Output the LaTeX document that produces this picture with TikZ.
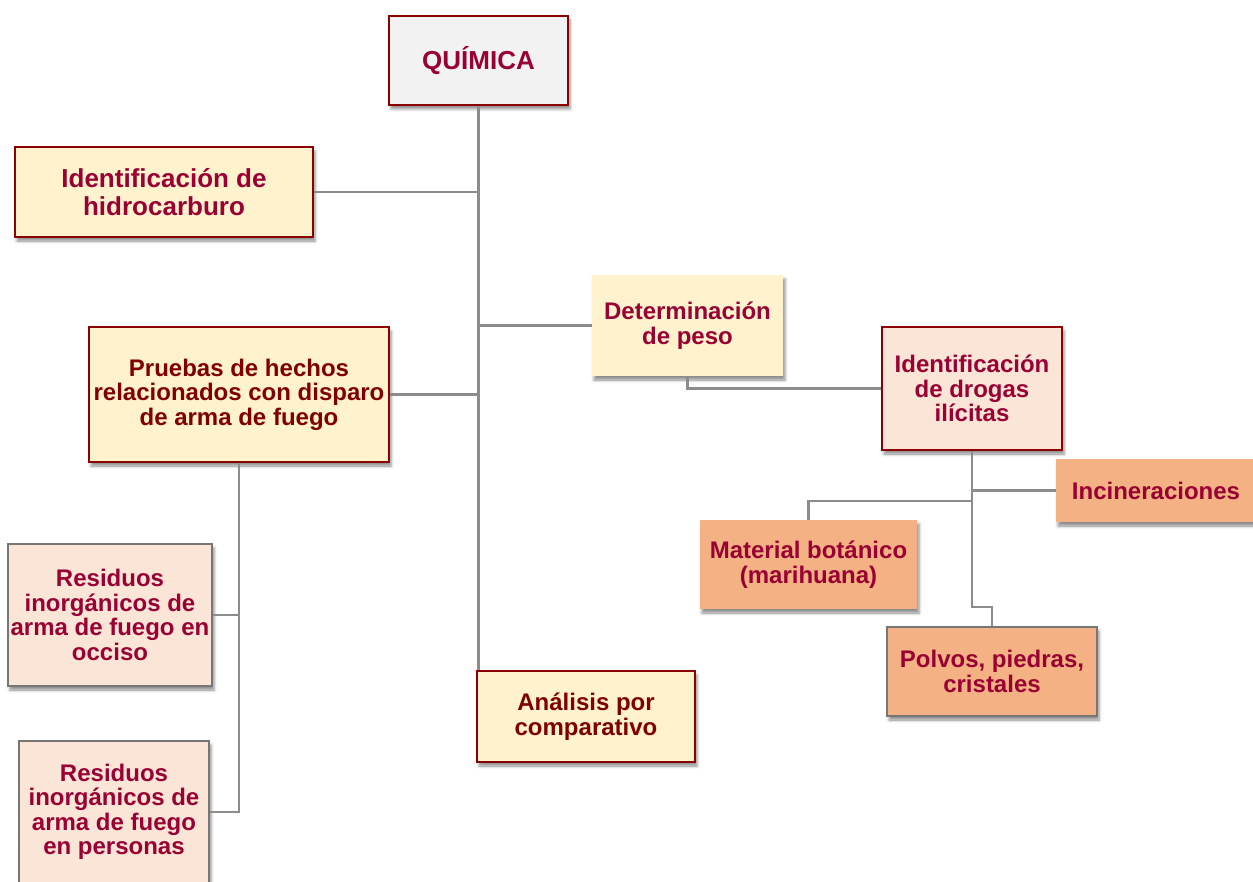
\documentclass[tikz,border=0pt]{standalone}
\usepackage{fontspec}
\setmainfont{Liberation Sans}
\usetikzlibrary{shadows.blur}
\definecolor{cream}{RGB}{255,242,204}
\definecolor{pinkfill}{RGB}{251,229,214}
\definecolor{orangefill}{RGB}{244,177,131}
\definecolor{greyfill}{RGB}{242,242,242}
\definecolor{darkborder}{RGB}{139,0,0}
\definecolor{greyborder}{RGB}{118,118,118}
\definecolor{crimsontext}{RGB}{153,0,51}
\definecolor{maroontext}{RGB}{128,0,0}
\definecolor{linegrey}{RGB}{140,140,140}
\tikzset{
  boxbase/.style={rectangle, inner sep=0pt, align=center, font=\bfseries\fontsize{24}{24.5}\selectfont,
    blur shadow={shadow xshift=2pt, shadow yshift=-4pt, shadow blur radius=3pt, shadow opacity=45}},
  redframe/.style={draw=darkborder, line width=2pt},
  greyframe/.style={draw=greyborder, line width=2pt},
  conn/.style={draw=linegrey, line width=2.2pt}
}
\begin{document}
\begin{tikzpicture}[x=1pt,y=-1pt]
\useasboundingbox (0,0) rectangle (1253,882);
% nodes
\node[boxbase, redframe, fill=greyfill, text=crimsontext, minimum width=179pt, minimum height=89pt,
  font=\bfseries\fontsize{26}{28}\selectfont] (quim) at (478.5,60.5) {QUÍMICA};
\node[boxbase, redframe, fill=cream, text=crimsontext, minimum width=298pt, minimum height=90pt,
  font=\bfseries\fontsize{26}{28}\selectfont] (hidro) at (164,192) {Identificación de\\hidrocarburo};
\node[boxbase, fill=cream, text=crimsontext, minimum width=191pt, minimum height=101pt] (deter) at (687.5,325.5) {Determinación\\de peso};
\node[boxbase, redframe, fill=cream, text=maroontext, minimum width=300pt, minimum height=135pt] (prueb) at (239,394.5) {Pruebas de hechos\\relacionados con disparo\\de arma de fuego};
\node[boxbase, redframe, fill=pinkfill, text=crimsontext, minimum width=180pt, minimum height=123pt] (drogas) at (972,388.5) {Identificación\\de drogas\\ilícitas};
\node[boxbase, fill=orangefill, text=crimsontext, minimum width=200pt, minimum height=63pt] (incin) at (1156,490.5) {Incineraciones};
\node[boxbase, fill=orangefill, text=crimsontext, minimum width=217pt, minimum height=89pt] (mater) at (808.5,564.5) {Material botánico\\(marihuana)};
\node[boxbase, greyframe, fill=orangefill, text=crimsontext, minimum width=210pt, minimum height=89pt] (polvos) at (992,671.5) {Polvos, piedras,\\cristales};
\node[boxbase, greyframe, fill=pinkfill, text=crimsontext, minimum width=204pt, minimum height=142pt] (occiso) at (110,615) {Residuos\\inorgánicos de\\arma de fuego en\\occiso};
\node[boxbase, greyframe, fill=pinkfill, text=crimsontext, minimum width=190pt, minimum height=142pt] (personas) at (114,812) {Residuos\\inorgánicos de\\arma de fuego\\en personas};
\node[boxbase, redframe, fill=cream, text=maroontext, minimum width=218pt, minimum height=91pt] (analisis) at (586,716.5) {Análisis por\\comparativo};
% junction coordinates
\coordinate (polvbend) at (972,607);
\coordinate (matjoin) at (972,501);
% connectors
\draw[conn] (quim.south) -- (quim.south |- analisis.north);
\draw[conn] (hidro.east) -- (hidro.east -| quim.south);
\draw[conn] (deter.west) -- (deter.west -| quim.south);
\draw[conn] (prueb.east) -- (prueb.east -| quim.south);
\draw[conn] (deter.south) |- (drogas.west);
\draw[conn] (drogas.south) -- (polvbend) -| (polvos.north);
\draw[conn] (incin.west) -- (incin.west -| drogas.south);
\draw[conn] (mater.north) |- (matjoin);
\draw[conn] (prueb.south) |- (personas.east);
\draw[conn] (occiso.east) -- (occiso.east -| prueb.south);
\end{tikzpicture}
\end{document}
